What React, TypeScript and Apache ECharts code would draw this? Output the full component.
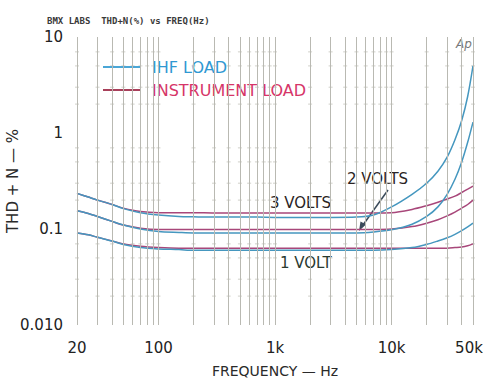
import React, { useEffect, useRef } from "react";
import * as echarts from "echarts";

const FREQS = [20, 25, 30, 40, 50, 70, 100, 150, 200, 300, 500, 700, 1000, 2000, 3000, 5000, 7000, 10000, 15000, 20000, 25000, 30000, 35000, 40000, 45000, 50000];

const IHF_3V = [0.235, 0.215, 0.2, 0.18, 0.163, 0.148, 0.14, 0.135, 0.134, 0.133, 0.133, 0.133, 0.132, 0.132, 0.132, 0.133, 0.14, 0.17, 0.23, 0.3, 0.4, 0.56, 0.85, 1.35, 2.4, 5.0];
const IHF_2V = [0.155, 0.145, 0.135, 0.12, 0.11, 0.1, 0.094, 0.092, 0.091, 0.091, 0.091, 0.091, 0.091, 0.091, 0.091, 0.091, 0.093, 0.098, 0.112, 0.135, 0.17, 0.23, 0.33, 0.5, 0.8, 1.3];
const IHF_1V = [0.091, 0.087, 0.082, 0.075, 0.069, 0.064, 0.062, 0.061, 0.06, 0.06, 0.06, 0.06, 0.06, 0.06, 0.06, 0.06, 0.06, 0.061, 0.064, 0.069, 0.075, 0.081, 0.088, 0.096, 0.105, 0.115];
const INST_3V = [0.235, 0.215, 0.2, 0.18, 0.165, 0.152, 0.148, 0.148, 0.148, 0.147, 0.147, 0.147, 0.147, 0.147, 0.147, 0.147, 0.147, 0.148, 0.16, 0.175, 0.19, 0.205, 0.22, 0.24, 0.26, 0.28];
const INST_2V = [0.155, 0.145, 0.135, 0.12, 0.11, 0.102, 0.099, 0.099, 0.099, 0.099, 0.099, 0.099, 0.099, 0.099, 0.099, 0.099, 0.099, 0.1, 0.106, 0.115, 0.125, 0.137, 0.15, 0.165, 0.18, 0.2];
const INST_1V = [0.091, 0.087, 0.082, 0.075, 0.07, 0.066, 0.064, 0.063, 0.063, 0.063, 0.063, 0.063, 0.063, 0.063, 0.063, 0.063, 0.063, 0.063, 0.063, 0.063, 0.063, 0.063, 0.064, 0.065, 0.067, 0.07];

const GRID_FREQS = [20, 30, 40, 50, 60, 70, 80, 90, 100, 200, 300, 400, 500, 600, 700, 800, 900, 1000, 2000, 3000, 4000, 5000, 6000, 7000, 8000, 9000, 10000, 20000, 30000, 40000, 50000];
const MARK_Y = [0.02, 0.03, 0.05, 0.07, 0.2, 0.3, 0.5, 0.7, 2, 3, 5, 7];

const X_LABELS: Record<number, string> = { 20: "20", 100: "100", 1000: "1k", 10000: "10k", 50000: "50k" };
const Y_LABELS: Record<number, string> = { [-2]: "0.010", [-1]: "0.1", 0: "1", 1: "10" };

const LEGEND_IHF = "IHF LOAD";
const LEGEND_INST = "INSTRUMENT LOAD";

const BLUE = "#4597bf";
const RED = "#a8477a";

function pairs(vals: number[]) {
  return FREQS.map((f, i) => [f, vals[i]]);
}

export default function App() {
  const ref = useRef<HTMLDivElement>(null);
  useEffect(() => {
    if (!ref.current) return;
    const chart = echarts.init(ref.current, null, { renderer: "svg" });
    const font = "DejaVu Sans";
    const lineSeries = (name: string, vals: number[], color: string) => ({
      type: "line",
      name,
      data: pairs(vals),
      smooth: 0.3,
      symbol: "none",
      showSymbol: false,
      lineStyle: { color, width: 1.5 },
      itemStyle: { color },
      silent: true,
      z: 3,
    });
    const marks: number[][] = [];
    GRID_FREQS.forEach((f) => MARK_Y.forEach((y) => marks.push([f, y])));

    chart.setOption({
      animation: false,
      backgroundColor: "#ffffff",
      title: {
        text: "BMX LABS  THD+N(%) vs FREQ(Hz)",
        left: 42,
        top: 11,
        textStyle: { fontFamily: "DejaVu Sans Mono", fontSize: 9, fontWeight: "bold", color: "#3a3a3a" },
      },
      grid: { left: 77, right: 10, top: 37, bottom: 56, containLabel: false, outerBoundsMode: "none" },
      legend: {
        orient: "vertical",
        left: 103,
        top: 59,
        padding: 0,
        icon: "rect",
        itemWidth: 37,
        itemHeight: 2,
        itemGap: 7,
        selectedMode: false,
        data: [
          { name: LEGEND_IHF, textStyle: { color: "#2f98d2" }, itemStyle: { color: "#4aa6d6" } },
          { name: LEGEND_INST, textStyle: { color: "#d63568" }, itemStyle: { color: "#a8405a" } },
        ],
        textStyle: { fontFamily: font, fontSize: 16, padding: [0, 0, 0, 7] },
      },
      xAxis: {
        type: "log",
        logBase: 10,
        min: 20,
        max: 50000,
        name: "FREQUENCY — Hz",
        nameLocation: "middle",
        nameGap: 39,
        nameMoveOverlap: false,
        nameTextStyle: { fontFamily: font, fontSize: 14, color: "#2a2a2a" },
        axisLine: { show: false },
        axisTick: { show: false },
        splitLine: { show: false },
        axisLabel: {
          interval: 0,
          showMinLabel: true,
          showMaxLabel: true,
          margin: 15,
          fontFamily: font,
          fontSize: 15,
          color: "#222",
          rich: { r: { fontFamily: font, fontSize: 15, color: "#222", padding: [0, 8, 0, 0] } },
          formatter: (v: number) => {
            const k = Math.round(v);
            const keys = Object.keys(X_LABELS).map(Number);
            const best = keys.reduce((a, b) => (Math.abs(b - k) < Math.abs(a - k) ? b : a));
            return best === 50000 ? `{r|${X_LABELS[best]}}` : X_LABELS[best];
          },
        },
      },
      yAxis: {
        type: "log",
        logBase: 10,
        min: 0.01,
        max: 10,
        name: "THD + N — %",
        nameLocation: "middle",
        nameGap: 57,
        nameMoveOverlap: false,
        nameTextStyle: { fontFamily: font, fontSize: 15, color: "#2a2a2a" },
        axisLine: { show: false },
        axisTick: { show: false },
        splitLine: { show: false },
        axisLabel: {
          margin: 14,
          fontFamily: font,
          fontSize: 15,
          color: "#222",
          formatter: (v: number) => Y_LABELS[Math.round(Math.log10(v))] ?? "",
        },
      },
      series: [
        {
          type: "scatter",
          name: "grid",
          data: marks,
          symbol: "rect",
          symbolSize: [4, 1],
          itemStyle: { color: "#c4c4bc" },
          silent: true,
          z: 1,
          markLine: {
            silent: true,
            symbol: ["none", "none"],
            label: { show: false },
            lineStyle: { color: "#b9b9b2", width: 1, type: "solid" },
            data: GRID_FREQS.map((f) => ({ xAxis: f })),
          },
        },
        lineSeries(LEGEND_INST, INST_3V, RED),
        lineSeries(LEGEND_INST, INST_2V, RED),
        lineSeries(LEGEND_INST, INST_1V, RED),
        lineSeries(LEGEND_IHF, IHF_3V, BLUE),
        lineSeries(LEGEND_IHF, IHF_2V, BLUE),
        lineSeries(LEGEND_IHF, IHF_1V, BLUE),
      ],
      graphic: [
        { type: "text", left: 456, top: 38, style: { text: "Ap", fontFamily: font, fontSize: 12, fontStyle: "italic", fill: "#777" } },
        { type: "text", left: 270, top: 195, style: { text: "3 VOLTS", fontFamily: font, fontSize: 15, fill: "#2a2424" } },
        { type: "text", left: 347, top: 171, style: { text: "2 VOLTS", fontFamily: font, fontSize: 15, fill: "#2a2424" } },
        { type: "text", left: 280, top: 255, style: { text: "1 VOLT", fontFamily: font, fontSize: 15, fill: "#2a3a30" } },
        { type: "line", shape: { x1: 388, y1: 190, x2: 363, y2: 225 }, style: { stroke: "#3a4a5a", lineWidth: 1.5 } },
        { type: "polygon", shape: { points: [[359, 231], [366, 224.5], [360.5, 221.5]] }, style: { fill: "#3a4a5a" } },
      ],
    });
    return () => chart.dispose();
  }, []);
  return <div ref={ref} style={{ position: "absolute", left: 0, top: 0, width: 483, height: 381 }} />;
}
